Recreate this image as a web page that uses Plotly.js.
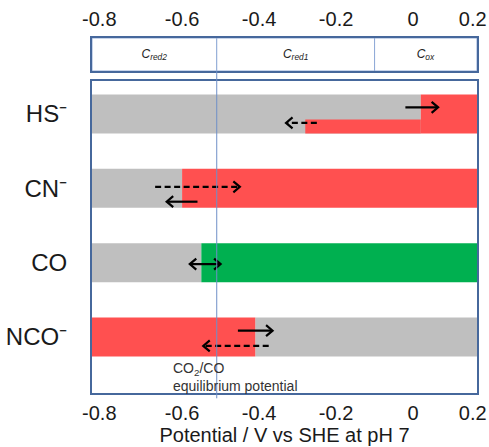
<!DOCTYPE html>
<html>
<head>
<meta charset="utf-8">
<script src="https://cdn.plot.ly/plotly-3.0.1.min.js"></script>
<style>html,body{margin:0;padding:0;background:#fff;}#chart{width:489px;height:447px;}</style>
</head>
<body>
<div id="chart"></div>
<script>
// ---------------- data ----------------
const species = ['HS⁻', 'CN⁻', 'CO', 'NCO⁻'];
// potential (V vs SHE, pH 7) where the bar changes from grey to colour
const onsetPotential = [0.02, -0.60, -0.55, -0.41];
// which side of the onset is coloured, and the colour
const colouredSide = ['right', 'right', 'right', 'left'];
const colourKind = ['red', 'red', 'green', 'red'];
// HS⁻ has a second (lower strip) onset
const hsSecondOnset = -0.28;
// CO2/CO equilibrium potential
const eqPotential = -0.51;
// regions of the top box
const regionNames = ['C<sub>red2</sub>', 'C<sub>red1</sub>', 'C<sub>ox</sub>'];
const regionBounds = [-0.51, -0.10];
// arrows (potential shifts)
const arrowSpecies = ['HS⁻', 'HS⁻', 'CN⁻', 'CN⁻', 'CO', 'NCO⁻', 'NCO⁻'];
const arrowFrom = [-0.02, -0.25, -0.67, -0.56, -0.58, -0.455, -0.375];
const arrowTo = [0.065, -0.33, -0.45, -0.64, -0.50, -0.365, -0.545];
const arrowDashed = [false, true, true, false, false, false, true];
const arrowBoth = [false, false, false, false, true, false, false];
const tickText = ['-0.8', '-0.6', '-0.4', '-0.2', '0', '0.2'];

// ---------------- layout / styling ----------------
const xMin = -0.834, xMax = 0.166;
const yMin = -0.754, yMax = 3.444;
const tickPos = [-0.815, -0.6, -0.4, -0.2, 0, 0.155];
const arrowLane = [0.09, -0.12, 0.02, -0.18, -0.02, 0.085, -0.12];
const COL = {grey: '#bfbfbf', red: '#ff5050', green: '#00b050'};
const BORDER = '#46689c';
const FONT = '"Liberation Sans", Arial, sans-serif';
// plot area size in px (for arrowhead size conversion)
const W = 489 - 92 - 12, Hmain = 312;
const pxX = (xMax - xMin) / W, pxY = (yMax - yMin) / Hmain;

const n = species.length;
const rowY = species.map((s, i) => n - 1 - i);
const rowOf = s => rowY[species.indexOf(s)];

const greyBase = [], greyLen = [];
const redBase = [], redLen = [], redY = [];
const greenBase = [], greenLen = [], greenY = [];
species.forEach((s, i) => {
  const o = onsetPotential[i];
  let gB, gL, cB, cL;
  if (colouredSide[i] === 'right') { gB = xMin; gL = o - xMin; cB = o; cL = xMax - o; }
  else { gB = o; gL = xMax - o; cB = xMin; cL = o - xMin; }
  greyBase.push(gB); greyLen.push(gL);
  if (colourKind[i] === 'red') { redBase.push(cB); redLen.push(cL); redY.push(rowY[i]); }
  else { greenBase.push(cB); greenLen.push(cL); greenY.push(rowY[i]); }
});
const BW = 0.525;
const common = {type: 'bar', orientation: 'h', hoverinfo: 'skip', showlegend: false, width: BW,
  xaxis: 'x', yaxis: 'y'};
const traces = [
  Object.assign({}, common, {name: 'grey', y: rowY, x: greyLen, base: greyBase, marker: {color: COL.grey, line: {width: 0}}}),
  Object.assign({}, common, {name: 'red', y: redY, x: redLen, base: redBase, marker: {color: COL.red, line: {width: 0}}}),
  Object.assign({}, common, {name: 'green', y: greenY, x: greenLen, base: greenBase, marker: {color: COL.green, line: {width: 0}}}),
  Object.assign({}, common, {name: 'red HS lower', y: [rowOf('HS⁻')], x: [onsetPotential[0] - hsSecondOnset], base: [hsSecondOnset],
    width: 0.19, offset: -BW / 2, marker: {color: COL.red, line: {width: 0}}})
];

// top region box
const regStarts = [xMin, regionBounds[0], regionBounds[1]];
const regEnds = [regionBounds[0], regionBounds[1], xMax];
traces.push({
  type: 'bar', orientation: 'h', xaxis: 'x2', yaxis: 'y2', hoverinfo: 'skip', showlegend: false,
  y: [0, 0, 0], base: regStarts, x: regEnds.map((e, i) => e - regStarts[i]), width: 1,
  marker: {color: '#ffffff', line: {color: '#8fa9d6', width: 1}},
  text: regionNames.map(t => '<i>' + t + '</i>'), textposition: 'inside', insidetextanchor: 'middle',
  constraintext: 'none', textangle: 0,
  textfont: {family: FONT, size: 12, color: '#222'}
});

// arrows: shafts and open chevron heads
const solidX = [], solidY = [], dashX = [], dashY = [], headX = [], headY = [];
const headLen = 6.5 * pxX, headHalf = 5.5 * pxY;
function addHead(xTip, yy, dir) {
  headX.push(xTip - dir * headLen, xTip, xTip - dir * headLen, null);
  headY.push(yy + headHalf, yy, yy - headHalf, null);
}
arrowSpecies.forEach((s, i) => {
  const yy = rowOf(s) + arrowLane[i];
  const dir = Math.sign(arrowTo[i] - arrowFrom[i]);
  const sx = arrowDashed[i] ? dashX : solidX, sy = arrowDashed[i] ? dashY : solidY;
  sx.push(arrowFrom[i], arrowTo[i] - dir * pxX, null); sy.push(yy, yy, null);
  addHead(arrowTo[i], yy, dir);
  if (arrowBoth[i]) addHead(arrowFrom[i], yy, -dir);
});
const lineCommon = {type: 'scatter', mode: 'lines', xaxis: 'x', yaxis: 'y', hoverinfo: 'skip', showlegend: false, connectgaps: false};
traces.push(Object.assign({}, lineCommon, {name: 'solid shafts', x: solidX, y: solidY, line: {color: '#000', width: 2.2}}));
traces.push(Object.assign({}, lineCommon, {name: 'dashed shafts', x: dashX, y: dashY, line: {color: '#000', width: 2.2, dash: '6px,3.5px'}}));
traces.push(Object.assign({}, lineCommon, {name: 'heads', x: headX, y: headY, line: {color: '#000', width: 2.2}}));

const annotations = [{xref: 'x', yref: 'y', x: eqPotential - 0.12, y: -0.545, xanchor: 'left', yanchor: 'middle',
  align: 'left', showarrow: false, text: 'CO<sub>2</sub>/CO<br>equilibrium potential',
  font: {family: FONT, size: 14, color: '#333'}}];

const layout = {
  width: 489, height: 447,
  margin: {l: 92, r: 12, t: 38, b: 54},
  paper_bgcolor: '#fff', plot_bgcolor: '#fff',
  barmode: 'overlay',
  font: {family: FONT, color: '#1a1a1a'},
  xaxis: {domain: [0, 1], anchor: 'y', range: [xMin, xMax], tickvals: tickPos, ticktext: tickText,
    ticks: '', showgrid: false, zeroline: false, showline: true, mirror: true, linecolor: BORDER, linewidth: 2,
    tickfont: {size: 20, color: '#1a1a1a'}, ticklabelstandoff: 1,
    title: {text: 'Potential / V vs SHE at pH 7', font: {size: 20, color: '#1a1a1a'}, standoff: 5}},
  yaxis: {domain: [0, 0.8789], anchor: 'x', range: [yMin, yMax], tickvals: rowY, ticktext: species,
    ticks: '', showgrid: false, zeroline: false, showline: true, mirror: true, linecolor: BORDER, linewidth: 2,
    tickfont: {size: 24, color: '#1a1a1a'},
    ticklabelstandoff: 18},
  xaxis2: {domain: [0, 1], anchor: 'y2', side: 'top', range: [xMin, xMax], tickvals: tickPos, ticktext: tickText,
    ticks: '', showgrid: false, zeroline: false, showline: true, mirror: true, linecolor: BORDER, linewidth: 2,
    tickfont: {size: 20, color: '#1a1a1a'}, ticklabelstandoff: 2},
  yaxis2: {domain: [0.907, 1], anchor: 'x2', range: [-0.5, 0.5], showticklabels: false, ticks: '',
    showgrid: false, zeroline: false, showline: true, mirror: true, linecolor: BORDER, linewidth: 2},
  shapes: [{type: 'line', xref: 'x', yref: 'paper', x0: eqPotential, x1: eqPotential, y0: -0.015, y1: 0.907,
    line: {color: '#6f8fc7', width: 1}}],
  annotations: annotations
};

Plotly.newPlot('chart', traces, layout, {staticPlot: true, displayModeBar: false});
</script>
</body>
</html>
